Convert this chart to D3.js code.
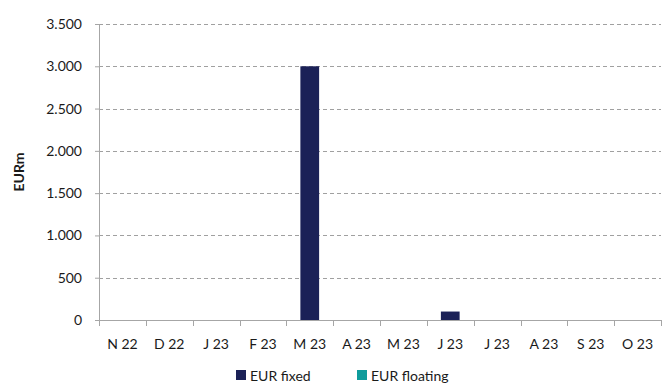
<!DOCTYPE html>
<meta charset="utf-8">
<script src="https://d3js.org/d3.v7.min.js"></script>
<style>
  body { margin: 0; background: #fff; }
  text { font-family: Lato, "Open Sans", sans-serif; fill: #1a1a1a; }
</style>
<div id="chart"></div>
<script>
  var months = ["N 22", "D 22", "J 23", "F 23", "M 23", "A 23", "M 23", "J 23", "J 23", "A 23", "S 23", "O 23"];
  var eurFixed = [0, 0, 0, 0, 3000, 0, 0, 100, 0, 0, 0, 0];
  var eurFloating = [0, 0, 0, 0, 0, 0, 0, 0, 0, 0, 0, 0];
  var yTicks = [0, 500, 1000, 1500, 2000, 2500, 3000, 3500];
  var seriesNames = ["EUR fixed", "EUR floating"];
  var colors = ["#1b2157", "#0f9c9c"];

  var W = 667, H = 387;
  var margin = {top: 24, right: 6, bottom: 67, left: 99},
      width = W - margin.left - margin.right,
      height = H - margin.top - margin.bottom;

  var svg = d3.select("#chart").append("svg")
      .attr("width", W).attr("height", H);
  var g = svg.append("g")
      .attr("transform", "translate(" + margin.left + "," + margin.top + ")");

  var x = d3.scaleBand().domain(d3.range(months.length)).range([0, width]).paddingInner(0).paddingOuter(0);
  var y = d3.scaleLinear().domain([0, 3500]).range([height, 0]);

  // gridlines
  g.selectAll(".grid").data(yTicks.filter(function(d) { return d > 0; }))
    .enter().append("line")
      .attr("x1", 0).attr("x2", width)
      .attr("y1", function(d) { return Math.round(y(d)) + 0.5; })
      .attr("y2", function(d) { return Math.round(y(d)) + 0.5; })
      .attr("stroke", "#a0a0a0")
      .attr("stroke-dasharray", "4,3");

  // stacked bars
  var stackData = months.map(function(m, i) { return {i: i, fixed: eurFixed[i], floating: eurFloating[i]}; });
  var stack = d3.stack().keys(["fixed", "floating"])(stackData);
  var barW = x.bandwidth() * 0.4;
  g.selectAll(".series").data(stack).enter().append("g")
      .attr("fill", function(d, k) { return colors[k]; })
    .selectAll("rect").data(function(d) { return d; }).enter().append("rect")
      .attr("x", function(d) { return x(d.data.i) + (x.bandwidth() - barW) / 2; })
      .attr("width", barW)
      .attr("y", function(d) { return y(d[1]); })
      .attr("height", function(d) { return y(d[0]) - y(d[1]); });

  // y axis
  var yAxis = g.append("g")
      .call(d3.axisLeft(y).tickValues(yTicks).tickSize(4).tickPadding(13)
        .tickFormat(function(d) { return d3.format(",")(d).replace(/,/g, "."); }));
  yAxis.select(".domain").attr("stroke", "#a6a6a6");
  yAxis.selectAll(".tick line").attr("stroke", "#a6a6a6");
  yAxis.selectAll("text").attr("font-size", 14).style("fill", "#1a1a1a");

  // x axis
  var xAxisG = g.append("g").attr("transform", "translate(0," + height + ")");
  xAxisG.append("line").attr("x1", 0).attr("x2", width).attr("y1", 0.5).attr("y2", 0.5).attr("stroke", "#a6a6a6");
  xAxisG.selectAll(".xt").data(d3.range(months.length + 1)).enter().append("line")
      .attr("x1", function(d) { return Math.round(d * x.step()) + 0.5; })
      .attr("x2", function(d) { return Math.round(d * x.step()) + 0.5; })
      .attr("y1", 0).attr("y2", 6)
      .attr("stroke", "#a6a6a6");
  xAxisG.selectAll(".xl").data(months).enter().append("text")
      .attr("x", function(d, i) { return x(i) + x.bandwidth() / 2; })
      .attr("y", 29)
      .attr("text-anchor", "middle")
      .attr("font-size", 14)
      .text(function(d) { return d; });

  // y label
  svg.append("text")
      .attr("transform", "translate(24," + (margin.top + height / 2) + ") rotate(-90)")
      .attr("text-anchor", "middle")
      .attr("font-size", 14)
      .attr("font-weight", "bold")
      .text("EURm");

  // legend
  var legendX = [236, 357];
  var legend = svg.selectAll(".legend").data(seriesNames).enter().append("g")
      .attr("transform", function(d, i) { return "translate(" + legendX[i] + ",370)"; });
  legend.append("rect").attr("width", 10).attr("height", 10).attr("y", 0)
      .attr("fill", function(d, i) { return colors[i]; });
  legend.append("text").attr("x", 14).attr("y", 11).attr("font-size", 14).text(function(d) { return d; });
</script>
